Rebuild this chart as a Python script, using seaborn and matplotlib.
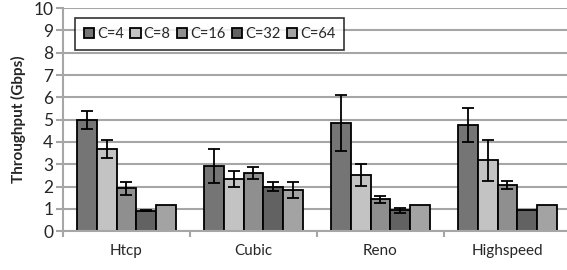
import numpy as np
import pandas as pd
import matplotlib
matplotlib.use("Agg")
import matplotlib.pyplot as plt
import seaborn as sns

# Data
algorithms = ["Htcp", "Cubic", "Reno", "Highspeed"]
conns = ["C=4", "C=8", "C=16", "C=32", "C=64"]
c4 = [5.00, 2.92, 4.85, 4.76]
c8 = [3.68, 2.33, 2.52, 3.17]
c16 = [1.92, 2.59, 1.42, 2.07]
c32 = [0.91, 1.99, 0.93, 0.94]
c64 = [1.17, 1.84, 1.17, 1.17]
err4 = [0.40, 0.75, 1.25, 0.78]
err8 = [0.40, 0.35, 0.48, 0.93]
err16 = [0.28, 0.27, 0.15, 0.18]
err32 = [0.03, 0.20, 0.12, 0.0]
err64 = [0.0, 0.35, 0.0, 0.0]

colors = ["#757575", "#c3c3c3", "#8f8f8f", "#626262", "#a3a3a3"]

values = [c4, c8, c16, c32, c64]
errors = [err4, err8, err16, err32, err64]
df = pd.DataFrame({
    "algo": np.tile(algorithms, len(conns)),
    "conn": np.repeat(conns, len(algorithms)),
    "tput": np.concatenate(values),
})

sns.set_style("white")
plt.rcParams["font.family"] = ["Lato", "DejaVu Sans"]

fig = plt.figure(figsize=(5.67, 2.70), dpi=100)
ax = fig.add_axes([0.111, 0.144, 0.896, 0.826])

sns.barplot(data=df, x="algo", y="tput", hue="conn", order=algorithms,
            hue_order=conns, palette=colors, errorbar=None, width=0.78,
            edgecolor="black", linewidth=1.3, saturation=1, ax=ax, zorder=2)

# error bars
for cont, err in zip(ax.containers, errors):
    xs = [p.get_x() + p.get_width() / 2 for p in cont.patches]
    hs = [p.get_height() for p in cont.patches]
    e = np.array(err)
    m = e > 0
    ax.errorbar(np.array(xs)[m], np.array(hs)[m], yerr=e[m], fmt="none",
                ecolor="black", elinewidth=1.3, capsize=4, capthick=1.3, zorder=3)

ax.set_ylim(0, 10)
ax.set_xlim(-0.5, 3.5)
ax.set_yticks(range(0, 11))
ax.yaxis.grid(True, color="#a6a6a6", linewidth=1.5, zorder=0)
ax.set_axisbelow(True)
for s in ["top", "right"]:
    ax.spines[s].set_visible(False)
for s in ["left", "bottom"]:
    ax.spines[s].set_color("#a6a6a6")
    ax.spines[s].set_linewidth(1.5)

ax.set_xticks([0, 1, 2, 3])
ax.set_xticklabels(algorithms, fontsize=11)
ax.set_xticks([-0.5, 0.5, 1.5, 2.5, 3.5], minor=True)
ax.tick_params(axis="x", which="major", length=0, pad=9)
ax.tick_params(axis="x", which="minor", length=4, width=1.5, color="#a6a6a6",
               direction="out", bottom=True)
ax.tick_params(axis="y", length=5, width=1.5, color="#a6a6a6", labelsize=12.5,
               left=True, pad=2)
ax.set_xlabel("")
ax.set_ylabel("Throughput (Gbps)", fontsize=11, fontweight="bold", labelpad=5)

leg = ax.legend(loc="upper left", bbox_to_anchor=(0.024, 0.955), ncol=5,
                frameon=True, fancybox=False, fontsize=10.5, handlelength=0.7,
                handleheight=0.7, handletextpad=0.2, columnspacing=0.45,
                borderpad=0.6, borderaxespad=0)
leg.get_frame().set_edgecolor("black")
leg.get_frame().set_linewidth(1.2)

fig.savefig("out.png", dpi=100)
